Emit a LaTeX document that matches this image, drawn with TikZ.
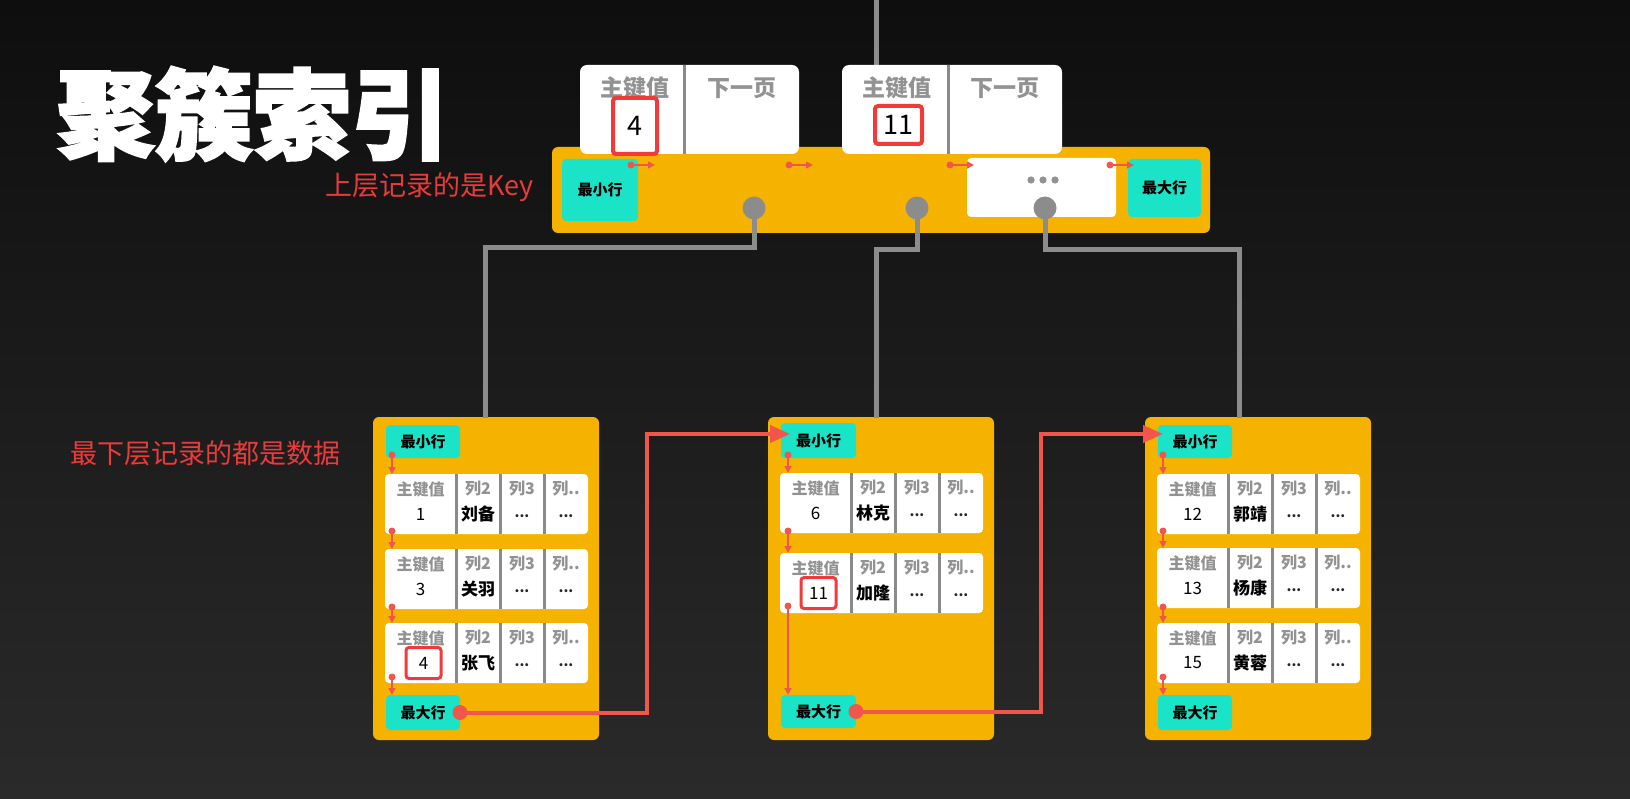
\documentclass[tikz,border=0pt]{standalone}
\usepackage{fontspec}
\setmainfont{Noto Sans CJK SC}
\newfontfamily\titlefont{Noto Sans CJK SC}[BoldFeatures={FakeBold=2.5}]
\usetikzlibrary{arrows.meta}
\definecolor{bgtop}{HTML}{0E0E0E}
\definecolor{bgbot}{HTML}{2A2A2A}
\definecolor{myyellow}{HTML}{F5B300}
\definecolor{myteal}{HTML}{1BE3C8}
\definecolor{linered}{HTML}{F0564B}
\definecolor{textred}{HTML}{EA3B3B}
\definecolor{boxred}{HTML}{F23A3A}
\definecolor{linegray}{HTML}{8C8C8C}
\definecolor{hdrgray}{HTML}{929292}
\definecolor{divgray}{HTML}{8A8A8A}

\newcommand\drow[7]{%
  \node[rowbox] (#1) at (#2,#3) {};
  \draw[divider] (#2+71,#3) -- (#2+71,#3+60);
  \draw[divider] (#2+115,#3) -- (#2+115,#3+60);
  \draw[divider] (#2+159,#3) -- (#2+159,#3+60);
  \node[hdr] (#1h1) at (#2+35.5,#3+15) {主键值};
  \node[hdr] (#1h2) at (#2+93,#3+15) {列2};
  \node[hdr] (#1h3) at (#2+137,#3+15) {列3};
  \node[hdr] (#1h4) at (#2+181,#3+15) {列..};
  \node[val,#6] (#1v1) at (#2+35.5+#7,#3+40) {#4};
  \node[valb] (#1v2) at (#2+93,#3+40) {#5};
  \node[dots] (#1v3) at (#2+137,#3+42) {...};
  \node[dots] (#1v4) at (#2+181,#3+42) {...};
}

\begin{document}
\begin{tikzpicture}[x=1pt,y=-1pt,
  every node/.style={inner sep=0pt, outer sep=0pt},
  leafbox/.style={fill=myyellow, rounded corners=6pt},
  tealbox/.style={fill=myteal, rounded corners=4pt, anchor=north west, text=black,
    font=\fontsize{15}{15}\selectfont\bfseries},
  rowbox/.style={fill=white, rounded corners=4pt, anchor=north west,
    minimum width=203pt, minimum height=60pt},
  divider/.style={draw=divgray, line width=3pt},
  hdr/.style={text=hdrgray, font=\fontsize{16}{16}\selectfont\bfseries},
  val/.style={text=black, font=\fontsize{17}{17}\selectfont},
  valb/.style={text=black, font=\fontsize{17}{17}\selectfont\bfseries},
  dots/.style={text=black!85, font=\fontsize{14}{14}\selectfont\bfseries},
  keyval/.style={draw=boxred, line width=3pt, rounded corners=3pt, fill=white,
    minimum width=35pt, minimum height=31pt},
  grayline/.style={draw=linegray, line width=5pt},
  redline/.style={draw=linered, line width=4pt},
  bigarr/.style={-{Triangle[length=20pt,width=17pt]}},
  smallarr/.style={draw=linered, line width=1.6pt, -{Triangle[length=7pt,width=7pt]}},
  cardhdr/.style={text=hdrgray, font=\fontsize{23}{23}\selectfont\bfseries},
  cardval/.style={text=black, font=\fontsize{27}{27}\selectfont},
  redtext/.style={text=textred, anchor=west, font=\fontsize{27}{27}\selectfont}
]
\useasboundingbox (0,0) rectangle (1630,799);
\shade[top color=bgtop, bottom color=bgbot] (0,0) rectangle (1630,799);

% title and notes
\node[anchor=west, text=white, font=\titlefont\bfseries\fontsize{98}{98}\selectfont] (title) at (57,114) {聚簇索引};
\node[redtext] (note1) at (325,187) {上层记录的是Key};
\node[redtext] (note2) at (70,453) {最下层记录的都是数据};

% line from above into upper page
\coordinate (topin) at (876,0);
\draw[grayline] (topin) -- (876,66);

% upper page bar
\node[leafbox, anchor=north west, minimum width=658pt, minimum height=86pt] (bar) at (552,147) {};

% upper cards
\node[fill=white, rounded corners=7pt, anchor=north west, minimum width=219pt, minimum height=89pt] (card1) at (580,65) {};
\draw[divider] (684,65) -- (684,154);
\node[cardhdr] (c1h) at (634.5,88) {主键值};
\node[cardhdr] (c1n) at (742,88) {下一页};
\node[draw=boxred, line width=4pt, rounded corners=3pt, fill=white, anchor=north west,
  minimum width=44pt, minimum height=56pt] (c1k) at (613,98) {};
\node[cardval] (c1v) at (635,126) {4};

\node[fill=white, rounded corners=7pt, anchor=north west, minimum width=220pt, minimum height=89pt] (card2) at (842,65) {};
\draw[divider] (948,65) -- (948,154);
\node[cardhdr] (c2h) at (897,88) {主键值};
\node[cardhdr] (c2n) at (1005,88) {下一页};
\node[draw=boxred, line width=4pt, rounded corners=3pt, fill=white, anchor=north west,
  minimum width=47pt, minimum height=38pt] (c2k) at (875,106) {};
\node[cardval] (c2v) at (898.5,125) {11};

% boxes in upper bar
\node[tealbox, minimum width=76pt, minimum height=62pt] (tmin) at (562,159) {最小行};
\node[fill=white, rounded corners=4pt, anchor=north west, minimum width=149pt, minimum height=59pt] (tmore) at (967,158) {};
\foreach \i/\x in {1/1031,2/1043,3/1055} \fill[hdrgray] (\x,180) circle (3.6);
\node[tealbox, minimum width=73pt, minimum height=58pt] (tmax) at (1128,159) {最大行};

% small arrows in upper bar
\foreach \i/\x in {1/631,2/789,3/950,4/1110} {
  \coordinate (ua\i s) at (\x,165);
  \coordinate (ua\i e) at (\x+24,165);
  \fill[linered] (ua\i s) circle (3.5);
  \draw[smallarr] (ua\i s) -- (ua\i e);
}

% leaves
\node[leafbox, anchor=north west, minimum width=226pt, minimum height=323pt] (leafL) at (373,417) {};
\node[leafbox, anchor=north west, minimum width=226pt, minimum height=323pt] (leafM) at (768,417) {};
\node[leafbox, anchor=north west, minimum width=226pt, minimum height=323pt] (leafR) at (1145,417) {};

% gray pointers from upper page to leaves
\coordinate (p1) at (754,208);
\coordinate (p2) at (917,208);
\coordinate (p3) at (1045,208);
\draw[grayline] (p1) -- (754,248) -- (485,248) -- (485,418);
\draw[grayline] (p2) -- (917,250) -- (876,250) -- (876,418);
\draw[grayline] (p3) -- (1045,250) -- (1239,250) -- (1239,418);
\fill[linegray] (p1) circle (11.5);
\fill[linegray] (p2) circle (11.5);
\fill[linegray] (p3) circle (11.5);

% left leaf
\node[tealbox, minimum width=74pt, minimum height=33pt] (minL) at (386,425) {最小行};
\drow{rL1}{385}{474}{1}{刘备}{}{0}
\drow{rL2}{385}{549}{3}{关羽}{}{0}
\drow{rL3}{385}{623}{4}{张飞}{keyval}{3}
\node[tealbox, minimum width=74pt, minimum height=35pt] (maxL) at (386,695) {最大行};

% middle leaf
\node[tealbox, minimum width=75pt, minimum height=35pt] (minM) at (781,423) {最小行};
\drow{rM1}{780}{473}{6}{林克}{}{0}
\drow{rM2}{780}{553}{11}{加隆}{keyval}{3}
\node[tealbox, minimum width=75pt, minimum height=33pt] (maxM) at (781,695) {最大行};

% right leaf
\node[tealbox, minimum width=74pt, minimum height=33pt] (minR) at (1158,425) {最小行};
\drow{rR1}{1157}{474}{12}{郭靖}{}{0}
\drow{rR2}{1157}{548}{13}{杨康}{}{0}
\drow{rR3}{1157}{623}{15}{黄蓉}{}{0}
\node[tealbox, minimum width=74pt, minimum height=35pt] (maxR) at (1158,695) {最大行};

% small arrows in leaves
\foreach \n/\x/\a/\b in {a/392/455/474, b/392/531/549, c/392/607/623, d/392/677/695,
                         e/788/455/473, f/788/531/553, g/788/606/695,
                         h/1163/455/474, i/1163/531/548, j/1163/607/623, k/1163/677/695} {
  \coordinate (la\n s) at (\x,\a);
  \coordinate (la\n e) at (\x,\b);
  \fill[linered] (la\n s) circle (3.5);
  \draw[smallarr] (la\n s) -- (la\n e);
}

% red links between leaves
\coordinate (inM) at (790,434);
\coordinate (inR) at (1163,434);
\draw[redline, bigarr] (maxL.east) -- (647,712.5) -- (647,434) -- (inM);
\draw[redline, bigarr] (maxM.east) -- (1041,711.5) -- (1041,434) -- (inR);
\fill[linered] (maxL.east) circle (7.5);
\fill[linered] (maxM.east) circle (7.5);
\end{tikzpicture}
\end{document}
